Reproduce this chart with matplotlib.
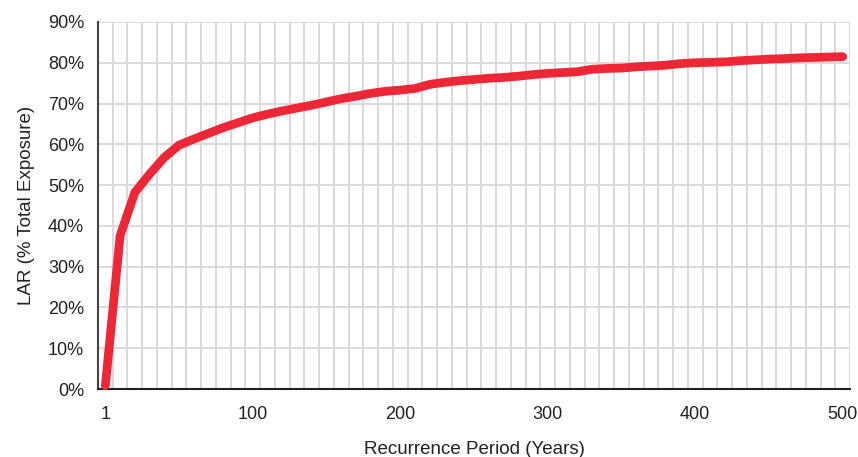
import matplotlib.pyplot as plt
from matplotlib.ticker import FixedLocator

plt.rcParams['font.family'] = ['Liberation Sans', 'DejaVu Sans']

periods = [1, 10, 20, 30, 40, 50, 60, 70, 80, 90,
           100, 110, 120, 130, 140, 150, 160, 170, 180, 190,
           200, 210, 220, 230, 240, 250, 260, 270, 280, 290,
           300, 310, 320, 330, 340, 350, 360, 370, 380, 390,
           400, 410, 420, 430, 440, 450, 460, 470, 480, 490, 500]
lar = [0.8, 37.6, 48.2, 52.7, 56.8, 59.8, 61.3, 62.7, 64.1, 65.3,
       66.5, 67.4, 68.2, 68.9, 69.6, 70.4, 71.2, 71.8, 72.5, 73.0,
       73.3, 73.7, 74.7, 75.2, 75.6, 75.9, 76.2, 76.4, 76.7, 77.1,
       77.4, 77.6, 77.8, 78.4, 78.6, 78.7, 79.0, 79.2, 79.4, 79.8,
       80.0, 80.1, 80.2, 80.5, 80.7, 80.9, 81.0, 81.2, 81.3, 81.4, 81.5]
shown_ticks = [1, 100, 200, 300, 400, 500]
y_ticks = [0, 10, 20, 30, 40, 50, 60, 70, 80, 90]

fig = plt.figure(figsize=(8.58, 4.57), dpi=100)
ax = fig.add_axes([98 / 858, 1 - 389 / 457, 752 / 858, 367 / 457])

idx = list(range(len(periods)))
ax.plot(idx, lar, color='#ee2737', lw=6.3, solid_capstyle='round',
        solid_joinstyle='round', zorder=3, clip_on=False)

ax.set_xlim(-0.5, len(periods) - 0.5)
ax.set_ylim(0, 90)

# category boundaries as vertical grid
ax.xaxis.set_minor_locator(FixedLocator([i + 0.5 for i in idx]))
ax.set_xticks([periods.index(p) for p in shown_ticks])
ax.set_xticklabels([str(p) for p in shown_ticks])
ax.set_yticks(y_ticks)
ax.set_yticklabels([f'{v}%' for v in y_ticks])

ax.grid(which='minor', axis='x', color='#d9d9d9', lw=1.4)
ax.grid(which='major', axis='y', color='#d9d9d9', lw=1.4)
ax.set_axisbelow(True)

ax.tick_params(which='both', length=0, labelsize=13, colors='#222222')
ax.tick_params(axis='x', pad=12)
ax.tick_params(axis='y', pad=10)

for s in ['top', 'right']:
    ax.spines[s].set_visible(False)
ax.spines['left'].set_color('#444444')
ax.spines['bottom'].set_color('#222222')
ax.spines['left'].set_linewidth(1.5)
ax.spines['bottom'].set_linewidth(1.5)

ax.set_xlabel('Recurrence Period (Years)', fontsize=13.5, color='#222222', labelpad=13)
ax.set_ylabel('LAR (% Total Exposure)', fontsize=13.5, color='#222222', labelpad=9)

fig.savefig('out.png', dpi=100)
